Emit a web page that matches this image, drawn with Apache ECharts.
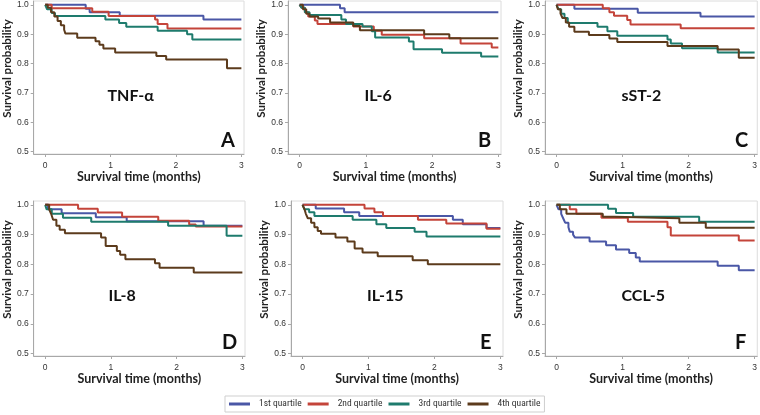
<!DOCTYPE html>
<html><head><meta charset="utf-8">
<script src="https://cdn.jsdelivr.net/npm/echarts@6/dist/echarts.min.js"></script>
<style>html,body{margin:0;padding:0;background:#fff}#c{width:760px;height:415px}</style>
</head><body><div id="c"></div>
<script>
const quartiles = ['1st quartile', '2nd quartile', '3rd quartile', '4th quartile'];
const panelNames = ['TNF-α', 'IL-6', 'sST-2', 'IL-8', 'IL-15', 'CCL-5'];
const panelLetters = ['A', 'B', 'C', 'D', 'E', 'F'];
const xTicks = [0, 1, 2, 3];
const yTicks = [0.5, 0.6, 0.7, 0.8, 0.9, 1.0];

// [time (months), survival probability]
const TNF_Q1 = [[0,1],[0.62,0.987],[0.68,0.975],[1.14,0.963],[2.42,0.95],[3,0.95]];
const TNF_Q2 = [[0,1],[0.1,0.988],[0.72,0.976],[0.97,0.962],[1.68,0.95],[1.72,0.935],[1.87,0.919],[3,0.919]];
const TNF_Q3 = [[0,1],[0.03,0.985],[0.1,0.972],[0.15,0.962],[0.92,0.95],[1.13,0.938],[1.24,0.925],[1.72,0.912],[2.17,0.9],[2.25,0.882],[3,0.882]];
const TNF_Q4 = [[0,1],[0.04,0.99],[0.09,0.975],[0.14,0.96],[0.19,0.945],[0.24,0.93],[0.29,0.915],[0.31,0.902],[0.49,0.888],[0.77,0.876],[0.83,0.864],[0.89,0.851],[1.07,0.838],[1.7,0.826],[1.85,0.814],[2.78,0.784],[3,0.784]];

const IL6_Q1 = [[0,1],[0.61,0.988],[0.68,0.975],[3,0.975]];
const IL6_Q2 = [[0,1],[0.03,0.99],[0.08,0.975],[0.13,0.96],[0.23,0.947],[0.27,0.935],[0.81,0.926],[1.12,0.912],[1.24,0.898],[1.88,0.886],[2.43,0.868],[2.9,0.855],[3,0.855]];
const IL6_Q3 = [[0,1],[0.03,0.99],[0.08,0.975],[0.15,0.965],[0.63,0.95],[0.7,0.935],[0.95,0.926],[1.09,0.91],[1.14,0.889],[1.65,0.875],[1.72,0.849],[2.15,0.837],[2.74,0.824],[3,0.824]];
const IL6_Q4 = [[0,1],[0.05,0.985],[0.1,0.97],[0.15,0.96],[0.28,0.953],[0.46,0.94],[0.81,0.928],[0.91,0.913],[1.88,0.9],[2.26,0.886],[3,0.886]];

const SST2_Q1 = [[0,1],[0.27,0.987],[1.23,0.973],[2.18,0.96],[3,0.96]];
const SST2_Q2 = [[0,1],[0.7,0.988],[0.8,0.975],[0.87,0.963],[1.07,0.948],[1.12,0.933],[1.88,0.92],[3,0.92]];
const SST2_Q3 = [[0,1],[0.03,0.985],[0.07,0.97],[0.12,0.955],[0.17,0.938],[0.62,0.925],[0.77,0.91],[0.92,0.895],[1.68,0.882],[1.73,0.868],[1.9,0.852],[2.44,0.838],[3,0.838]];
const SST2_Q4 = [[0,1],[0.02,0.985],[0.06,0.97],[0.09,0.955],[0.14,0.94],[0.19,0.925],[0.27,0.908],[0.49,0.897],[0.8,0.885],[0.92,0.873],[1.68,0.86],[2.44,0.848],[2.76,0.82],[3,0.82]];

const IL8_Q1 = [[0,1],[0.04,0.985],[0.25,0.972],[0.77,0.958],[1.24,0.945],[2.41,0.93],[3,0.93]];
const IL8_Q2 = [[0,1],[0.5,0.987],[0.8,0.974],[1.17,0.96],[1.72,0.947],[2.19,0.934],[2.29,0.927],[3,0.927]];
const IL8_Q3 = [[0,1],[0.02,0.985],[0.1,0.97],[0.27,0.957],[0.7,0.943],[1.87,0.93],[2.76,0.896],[3,0.896]];
const IL8_Q4 = [[0,1],[0.06,0.985],[0.09,0.97],[0.12,0.95],[0.17,0.93],[0.22,0.916],[0.3,0.905],[0.85,0.89],[0.92,0.862],[1.09,0.845],[1.14,0.832],[1.22,0.817],[1.67,0.804],[1.74,0.789],[2.26,0.773],[3,0.773]];

const IL15_Q1 = [[0,1],[0.2,0.988],[0.63,0.975],[0.86,0.963],[2.28,0.95],[2.43,0.935],[2.79,0.922],[3,0.922]];
const IL15_Q2 = [[0,1],[0.94,0.988],[1.09,0.975],[1.22,0.963],[1.75,0.95],[2.18,0.937],[2.79,0.92],[3,0.92]];
const IL15_Q3 = [[0,1],[0.03,0.985],[0.1,0.975],[0.18,0.963],[0.76,0.95],[1.12,0.935],[1.27,0.922],[1.7,0.91],[1.88,0.894],[3,0.894]];
const IL15_Q4 = [[0,1],[0.03,0.985],[0.05,0.97],[0.08,0.955],[0.13,0.94],[0.18,0.925],[0.23,0.912],[0.28,0.903],[0.5,0.89],[0.68,0.877],[0.79,0.853],[0.91,0.84],[1.14,0.827],[1.67,0.814],[1.9,0.8],[3,0.8]];

const CCL5_Q1 = [[0,1],[0.03,0.985],[0.07,0.97],[0.1,0.955],[0.13,0.94],[0.18,0.925],[0.2,0.91],[0.25,0.9],[0.28,0.89],[0.5,0.877],[0.75,0.864],[0.9,0.85],[1.1,0.838],[1.2,0.823],[1.26,0.81],[2.44,0.795],[2.76,0.78],[3,0.78]];
const CCL5_Q2 = [[0,1],[0.2,0.985],[0.3,0.97],[0.68,0.957],[1.08,0.943],[1.68,0.925],[1.73,0.897],[2.76,0.88],[3,0.88]];
const CCL5_Q3 = [[0,1],[0.78,0.987],[0.9,0.973],[1.16,0.96],[2.16,0.943],[3,0.943]];
const CCL5_Q4 = [[0,1],[0.05,0.985],[0.15,0.97],[0.7,0.96],[0.88,0.955],[1.86,0.94],[2.26,0.923],[3,0.923]];

const panelData = [
  [TNF_Q1, TNF_Q2, TNF_Q3, TNF_Q4],
  [IL6_Q1, IL6_Q2, IL6_Q3, IL6_Q4],
  [SST2_Q1, SST2_Q2, SST2_Q3, SST2_Q4],
  [IL8_Q1, IL8_Q2, IL8_Q3, IL8_Q4],
  [IL15_Q1, IL15_Q2, IL15_Q3, IL15_Q4],
  [CCL5_Q1, CCL5_Q2, CCL5_Q3, CCL5_Q4]
];

const colors = ['#4a57a6', '#c4443a', '#1e7b6d', '#5c3b1c'];
const grids = [
  {left: 31, top: 1, width: 213, height: 153},
  {left: 288, top: 1, width: 213, height: 153},
  {left: 545, top: 1, width: 213, height: 153},
  {left: 32, top: 201, width: 213, height: 155},
  {left: 291, top: 201, width: 212, height: 155},
  {left: 545, top: 201, width: 213, height: 155}
];
const boldFont = 'Lato, "Noto Sans", "DejaVu Sans", sans-serif';
const tickFont = '"Liberation Sans", Arial, sans-serif';

const option = {
  backgroundColor: '#fff',
  animation: false,
  grid: grids.map(g => Object.assign({show: true, borderColor: '#dcdcdc', borderWidth: 1, backgroundColor: '#fff'}, g)),
  xAxis: grids.map((g, i) => ({
    type: 'value', gridIndex: i, min: -0.175, max: 3.04,
    name: 'Survival time (months)', nameLocation: 'middle', nameGap: 16,
    nameTextStyle: {fontFamily: boldFont, fontWeight: 'bold', fontSize: 12.5, color: '#222'},
    axisLine: {show: true, onZero: false, lineStyle: {color: '#a8a8a8', width: 1}},
    axisTick: {show: true, length: 3, customValues: xTicks, lineStyle: {color: '#a8a8a8'}},
    axisLabel: {customValues: xTicks, margin: 7, fontSize: 8.5, fontFamily: tickFont, color: '#333', formatter: v => String(Math.round(v))},
    splitLine: {show: false}
  })),
  yAxis: grids.map((g, i) => ({
    type: 'value', gridIndex: i, min: 0.492, max: 1.013,
    name: 'Survival probability', nameLocation: 'middle', nameGap: 20,
    nameTextStyle: {fontFamily: boldFont, fontWeight: 'bold', fontSize: 11.5, color: '#222', padding: [0, 0, 0, 18]},
    axisLine: {show: true, onZero: false, lineStyle: {color: '#a8a8a8', width: 1}},
    axisTick: {show: true, length: 3, customValues: yTicks, lineStyle: {color: '#a8a8a8'}},
    axisLabel: {customValues: yTicks, margin: 5, fontSize: 8.5, fontFamily: tickFont, color: '#333', formatter: v => v.toFixed(1)},
    splitLine: {show: false}
  })),
  legend: {
    data: quartiles, left: 225, top: 396, orient: 'horizontal',
    padding: [3, 4], borderColor: '#cfcfcf', borderWidth: 1,
    itemWidth: 21, itemHeight: 3, itemGap: 6, icon: 'rect',
    textStyle: {fontSize: 9.5, fontFamily: '"Liberation Sans Narrow", "Roboto Condensed", Arial, sans-serif', color: '#333', padding: [0, 0, 0, 4]}
  },
  series: [],
  graphic: []
};

panelData.forEach((curves, p) => {
  curves.forEach((d, q) => {
    option.series.push({
      type: 'line', name: quartiles[q], xAxisIndex: p, yAxisIndex: p,
      data: d, step: 'end', showSymbol: false, symbol: 'none',
      color: colors[q], lineStyle: {color: colors[q], width: 2}, z: 2 + q
    });
  });
  const g = grids[p];
  option.graphic.push({
    type: 'text', left: g.left + g.width / 2 - 30, top: g.top + 87,
    style: {text: panelNames[p], fontFamily: boldFont, fontWeight: 'bold', fontSize: 16, fill: '#111', width: 60, align: 'center'}
  });
  option.graphic.push({
    type: 'text', left: g.left + g.width - 23, top: g.top + g.height - 23,
    style: {text: panelLetters[p], fontFamily: boldFont, fontWeight: 'bold', fontSize: 20, fill: '#111'}
  });
});

const chart = echarts.init(document.getElementById('c'), null, {renderer: 'canvas'});
chart.setOption(option);
</script></body></html>
